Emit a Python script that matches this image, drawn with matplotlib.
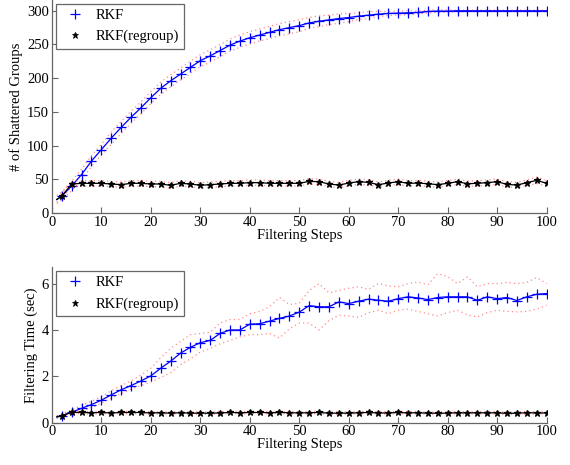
import matplotlib.pyplot as plt
from matplotlib.lines import Line2D

plt.rcParams['font.family'] = ['Liberation Serif', 'DejaVu Serif']

steps = [1] + list(range(2, 101, 2))

# shattered groups: mean and spread over runs
groups_rkf = [20, 25, 40, 57, 77, 94, 111, 127, 142, 156, 171, 185, 196, 206, 216, 226,
              233, 241, 249, 255, 260, 264, 268, 272, 275, 278, 282, 284.5, 286.5, 288.5,
              290, 292, 293.5, 295, 296, 296.5, 297, 297.5, 299, 299.5, 299.5, 300, 300,
              300, 300, 300, 300, 300, 300, 300, 300]
groups_rkf_sd = [6, 6, 7, 8, 8, 8, 9, 9, 9, 9, 9, 9, 9, 9, 9, 9, 9, 9, 9, 9, 9, 9, 9, 9,
                 9, 9, 8, 8, 7, 7, 6, 5, 5, 4, 3, 3, 3, 2, 2, 2, 1.5, 1, 1, 1, 1, 1, 1,
                 1, 1, 1, 1]
groups_reg = [20, 25, 43, 44, 44, 44, 43, 42, 44, 44, 43, 43, 41, 44, 43, 41, 42, 43, 44,
              44, 45, 45, 44, 44, 44, 44, 46.9, 46.4, 43, 41.4, 44.4, 46.4, 45.4, 42, 44.4,
              46.4, 44, 44.4, 43.4, 42, 44, 46.4, 43.4, 44, 45, 46.4, 42.4, 41.4, 45, 48.4, 44]
groups_reg_sd = [4, 4, 4, 4, 4, 4, 4, 4, 4, 4, 4, 4, 4, 4, 4, 4, 4, 4, 4, 4, 4, 4, 4, 4,
                 4, 4, 4, 4, 4, 4, 4, 4, 4, 4, 4, 4, 4, 4, 4, 4, 4, 4, 4, 4, 4, 4, 4, 4,
                 4, 5, 4]

# filtering time (sec): mean with upper / lower band
time_rkf = [0.25, 0.3, 0.45, 0.62, 0.78, 0.97, 1.2, 1.42, 1.6, 1.8, 2.02, 2.35, 2.65, 3.0,
            3.25, 3.45, 3.55, 3.85, 4.0, 4.0, 4.25, 4.27, 4.38, 4.5, 4.6, 4.77, 5.05, 5.0,
            5.0, 5.21, 5.14, 5.24, 5.33, 5.28, 5.24, 5.35, 5.43, 5.38, 5.31, 5.4, 5.43,
            5.43, 5.43, 5.28, 5.43, 5.35, 5.4, 5.27, 5.43, 5.54, 5.57]
time_rkf_hi = [0.3, 0.38, 0.55, 0.75, 0.92, 1.12, 1.38, 1.6, 1.8, 2.05, 2.35, 2.8, 3.2,
               3.5, 3.8, 3.85, 3.9, 4.3, 4.45, 4.45, 4.7, 4.8, 5.0, 5.4, 5.1, 5.15, 5.7,
               6.0, 5.6, 5.7, 5.8, 5.86, 5.75, 6.0, 5.9, 5.86, 6.0, 6.07, 5.95, 6.43, 6.3,
               6.0, 6.29, 5.86, 6.0, 6.0, 6.05, 6.0, 6.05, 6.26, 6.0]
time_rkf_lo = [0.2, 0.25, 0.38, 0.5, 0.65, 0.85, 1.05, 1.25, 1.45, 1.6, 1.75, 1.95, 2.15,
               2.5, 2.75, 3.05, 3.2, 3.4, 3.55, 3.7, 3.8, 3.8, 3.85, 3.65, 4.05, 4.3, 4.3,
               4.0, 4.4, 4.64, 4.6, 4.54, 4.75, 4.85, 4.7, 4.85, 4.9, 4.8, 4.7, 4.6, 4.75,
               4.85, 4.65, 4.56, 4.75, 4.85, 4.8, 4.78, 4.8, 4.9, 5.07]
time_reg = [0.25, 0.3, 0.45, 0.44, 0.43, 0.44, 0.42, 0.44, 0.44, 0.44, 0.42, 0.43, 0.41,
            0.43, 0.41, 0.41, 0.41, 0.42, 0.44, 0.43, 0.44, 0.44, 0.43, 0.44, 0.43, 0.42,
            0.43, 0.44, 0.41, 0.41, 0.41, 0.43, 0.44, 0.42, 0.42, 0.44, 0.42, 0.43, 0.41,
            0.41, 0.41, 0.43, 0.42, 0.43, 0.42, 0.43, 0.40, 0.41, 0.43, 0.42, 0.42]
time_reg_sd = [0.05] * len(steps)

labels = ['RKF', 'RKF(regroup)']
band_color = (1.0, 0.35, 0.35)


def draw_series(ax, y, lo, hi, color, marker, ms):
    for edge in (lo, hi):
        ax.plot(steps, edge, color=band_color, lw=0.9, alpha=0.7, ls=(0, (1, 2.5)))
    ax.plot(steps, y, '-', color=color, lw=0.9, marker=marker, ms=ms, mew=0.9,
            markevery=slice(1, None))


def style_axes(ax, ylim, yticks, ylabel):
    ax.set_xlim(0, 100)
    ax.set_ylim(*ylim)
    ax.set_xticks(range(0, 101, 10))
    ax.set_yticks(yticks)
    for side in ('top', 'right'):
        ax.spines[side].set_visible(False)
    for side in ('left', 'bottom'):
        ax.spines[side].set_color('#666666')
        ax.spines[side].set_linewidth(0.9)
    ax.tick_params(direction='in', length=4, width=0.8, color='#666666', labelsize=10.5, pad=2)
    ax.set_xlabel('Filtering Steps', fontsize=10.5, labelpad=0)
    ax.set_ylabel(ylabel, fontsize=10.5, labelpad=3)
    handles = [Line2D([], [], ls='none', marker='+', color='blue', ms=6.5, mew=0.9),
               Line2D([], [], ls='none', marker='*', color='black', ms=4.5, mew=0.6)]
    leg = ax.legend(handles, labels, loc='upper left', fontsize=10.5, fancybox=False,
                    edgecolor='#666666', framealpha=1, handlelength=2.0,
                    borderpad=0.35, labelspacing=0.55, handletextpad=0.4,
                    bbox_to_anchor=(0.0, 1.0), borderaxespad=0.25)
    leg.get_frame().set_linewidth(0.9)


fig = plt.figure(figsize=(5.7, 4.65), dpi=100)
ax1 = fig.add_axes([0.091, 0.542, 0.868, 0.458])
ax2 = fig.add_axes([0.091, 0.091, 0.868, 0.334])

draw_series(ax1, groups_rkf, [m - s for m, s in zip(groups_rkf, groups_rkf_sd)],
            [m + s for m, s in zip(groups_rkf, groups_rkf_sd)], 'blue', '+', 6.5)
draw_series(ax1, groups_reg, [m - s for m, s in zip(groups_reg, groups_reg_sd)],
            [m + s for m, s in zip(groups_reg, groups_reg_sd)], 'black', '*', 4.5)
style_axes(ax1, (0, 316), range(0, 301, 50), '# of Shattered Groups')

draw_series(ax2, time_rkf, time_rkf_lo, time_rkf_hi, 'blue', '+', 6.5)
draw_series(ax2, time_reg, [m - s for m, s in zip(time_reg, time_reg_sd)],
            [m + s for m, s in zip(time_reg, time_reg_sd)], 'black', '*', 4.5)
style_axes(ax2, (0, 6.7), range(0, 7, 2), 'Filtering Time (sec)')

fig.savefig('out.png', dpi=100)
